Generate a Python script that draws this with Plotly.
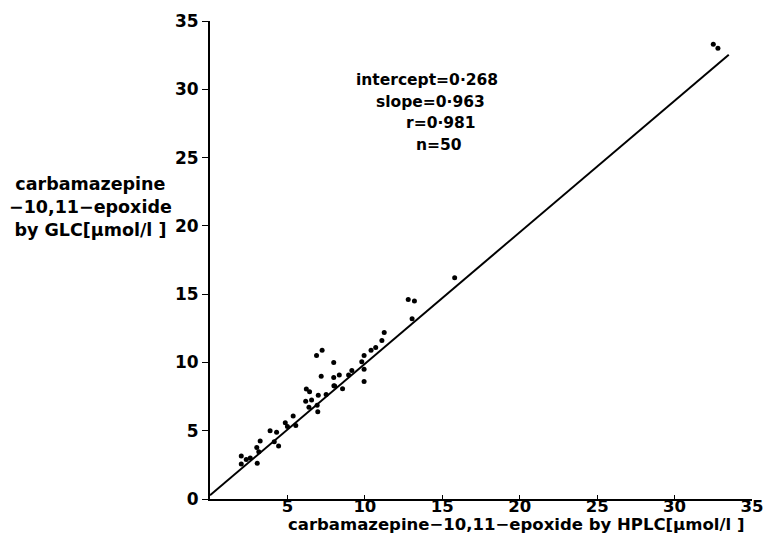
import plotly.graph_objects as go

# HPLC (x) vs GLC (y) carbamazepine-10,11-epoxide, µmol/l
hplc = [2.02, 2.34, 2.02, 3.05, 3.15, 3.02, 3.24, 4.15, 4.43, 4.3, 3.88,
        4.86, 5.54, 5.37, 6.96, 6.92, 6.39, 6.56, 6.18, 6.43, 6.22, 6.99,
        7.5, 8.05, 8.56, 9.16, 8.95, 8.35, 7.99, 7.18, 7.99, 6.88, 7.24,
        9.95, 9.95, 9.8, 9.95, 10.7, 11.1, 11.25, 10.4, 13.05, 12.8, 13.2,
        15.8, 32.5, 32.8, 2.6, 5.0, 8.0]
glc = [3.15, 2.9, 2.56, 2.61, 3.46, 3.78, 4.25, 4.2, 3.88, 4.88, 5.0,
       5.59, 5.39, 6.08, 6.39, 6.86, 6.71, 7.25, 7.15, 7.86, 8.05, 7.59,
       7.66, 8.27, 8.07, 9.4, 9.08, 9.08, 8.9, 8.98, 10.0, 10.5, 10.9,
       8.6, 9.5, 10.05, 10.5, 11.1, 11.6, 12.2, 10.9, 13.2, 14.6, 14.5,
       16.2, 33.3, 33.0, 3.0, 5.3, 8.3]

intercept = 0.268
slope = 0.963
line_x = [0, 33.5]
line_y = [intercept + slope * v for v in line_x]

stats_lines = ["intercept=0·268", "slope=0·963", "r=0·981", "n=50"]

x_ticks = [5, 10, 15, 20, 25, 30, 35]
y_ticks = [0, 5, 10, 15, 20, 25, 30, 35]

FONT = "DejaVu Sans, Liberation Sans, sans-serif"

fig = go.Figure()
fig.add_trace(go.Scatter(x=line_x, y=line_y, mode="lines",
                         line=dict(color="black", width=2), hoverinfo="skip"))
fig.add_trace(go.Scatter(x=hplc, y=glc, mode="markers",
                         marker=dict(color="black", size=5, symbol="circle")))

# stats annotation
stat_pos = [(18.7, 30.7), (17.9, 29.1), (17.3, 27.5), (16.4, 25.9)]
for txt, (xx, yy) in zip(stats_lines, stat_pos):
    fig.add_annotation(x=xx, y=yy, xref="x", yref="y", text=f"<b>{txt}</b>",
                       showarrow=False, xanchor="right", yanchor="middle",
                       font=dict(family=FONT, size=15.5, color="black"))

fig.add_annotation(x=-0.221, y=0.611, xref="paper", yref="paper",
                   text="<b>carbamazepine<br>−10,11−epoxide<br>by GLC[μmol/l ]</b>",
                   showarrow=False, xanchor="center", yanchor="middle", align="center",
                   font=dict(family=FONT, size=17.5, color="black"))

fig.add_annotation(x=0.565, y=-0.0765, xref="paper", yref="paper",
                   text="<b>carbamazepine−10,11−epoxide by HPLC[μmol/l ]</b>",
                   showarrow=False, xanchor="center", yanchor="bottom",
                   font=dict(family=FONT, size=16.5, color="black"))

# page body adds an 8px margin; size the figure to fit the 771x545 window
fig.update_layout(
    width=755, height=529,
    margin=dict(l=202, r=11, t=13, b=38, autoexpand=False),
    paper_bgcolor="white", plot_bgcolor="white",
    showlegend=False,
    font=dict(family=FONT, size=17, color="black"),
)
fig.update_xaxes(range=[0, 35], tickvals=x_ticks,
                 ticktext=[f"<b>{v}</b>" for v in x_ticks],
                 showgrid=False, zeroline=False, showline=True,
                 linecolor="black", linewidth=2, ticks="inside", ticklen=4,
                 tickcolor="black", tickfont=dict(size=16.5),
                 ticklabelstandoff=-9, ticklabeloverflow="allow",
                 automargin=False)
fig.update_yaxes(range=[0, 35], tickvals=y_ticks,
                 ticktext=[f"<b>{v}</b>" for v in y_ticks],
                 showgrid=False, zeroline=False, showline=True,
                 linecolor="black", linewidth=2, ticks="outside", ticklen=6,
                 tickcolor="black", tickfont=dict(size=17),
                 automargin=False)

fig.write_html("out.html")
